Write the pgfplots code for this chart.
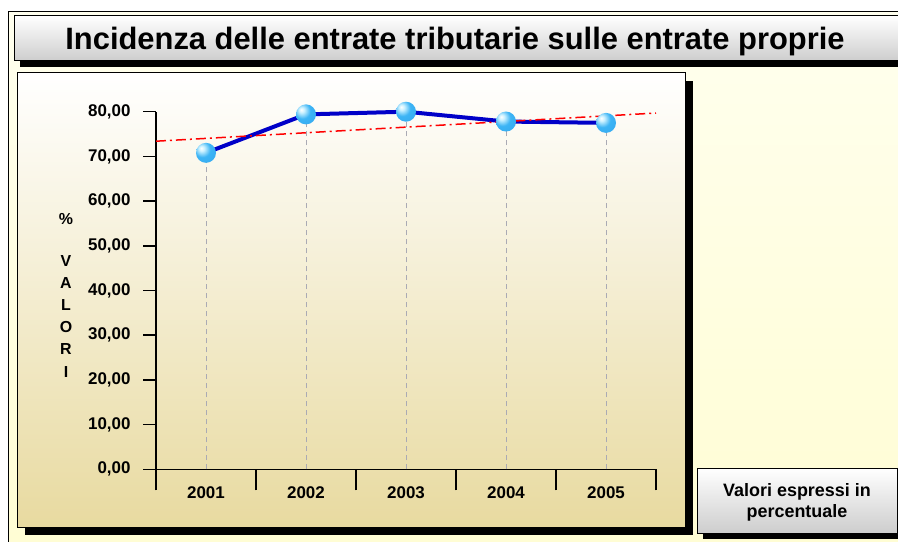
\documentclass[border=0pt]{standalone}
\usepackage{fontspec}
\setmainfont{Liberation Sans}
\usepackage{pgfplots}
\pgfplotsset{compat=1.18}
\usetikzlibrary{plotmarks}
\definecolor{bgtop}{RGB}{255,255,238}
\definecolor{bgbot}{RGB}{255,253,212}
\definecolor{panelbot}{RGB}{232,218,160}
\definecolor{boxbot}{RGB}{205,205,205}
\definecolor{lineblue}{RGB}{0,0,200}
\definecolor{ballhi}{RGB}{200,240,255}
\definecolor{ballmid}{RGB}{60,180,245}
\definecolor{balledge}{RGB}{15,110,205}
\definecolor{dropgray}{RGB}{170,170,180}
\pgfdeclareradialshading{myballshade}{\pgfpoint{-12bp}{12bp}}{%
  color(0bp)=(white); color(7bp)=(ballhi); color(20bp)=(ballmid);
  color(42bp)=(ballmid!85!balledge); color(60bp)=(balledge); color(80bp)=(balledge)}
\pgfdeclareplotmark{myball}{%
  \pgfpathcircle{\pgfpointorigin}{\pgfplotmarksize}%
  \pgfshadepath{myballshade}{0}%
  \pgfusepath{discard}}
\begin{document}
\begin{tikzpicture}
\begin{scope}[x=1bp,y=-1bp]
\path[use as bounding box] (0,0) rectangle (898,542);
\fill[white] (0,0) rectangle (898,542);
\shade[top color=bgtop,bottom color=bgbot] (8,12) rectangle (898,542);
\draw[black,line width=1bp] (8,542) -- (8,12) -- (898,12);
% title box
\fill[black] (20,22) rectangle (906,67);
\shadedraw[top color=white,bottom color=boxbot,draw=black,line width=1bp] (14,16) rectangle (900,61);
\node[anchor=base,inner sep=0pt,font=\fontsize{31}{31}\selectfont\bfseries] at (455,50) {Incidenza delle entrate tributarie sulle entrate proprie};
% plot panel
\fill[black] (25,81) rectangle (693,535);
\shadedraw[top color=white,bottom color=panelbot,draw=black,line width=1bp] (17,73) rectangle (685,527);
% note box
\fill[black] (703,474) rectangle (903,539);
\shadedraw[top color=white,bottom color=boxbot,draw=black,line width=1bp] (697,468) rectangle (897,533);
\node[anchor=base,inner sep=0pt,font=\fontsize{18}{18}\selectfont\bfseries] at (797,496) {Valori espressi in};
\node[anchor=base,inner sep=0pt,font=\fontsize{18}{18}\selectfont\bfseries] at (797,517) {percentuale};
% vertical y label
\foreach \t/\yy in {\%/225,V/267,A/289,L/311,O/333,R/355,I/377}
  \node[anchor=base,inner sep=0pt,font=\fontsize{16}{16}\selectfont\bfseries] at (66,\yy) {\t};
\end{scope}
\begin{axis}[
  at={(156bp,-469.3bp)}, anchor=south west,
  scale only axis, width=500bp, height=357.6bp,
  xmin=-0.5, xmax=4.5, ymin=0, ymax=80,
  axis lines*=left,
  axis line style={black,line width=1.5bp},
  clip=false,
  tick align=outside,
  major tick length=13bp,
  minor tick length=21bp,
  ytick={0,10,20,30,40,50,60,70,80},
  yticklabels={{0,00},{10,00},{20,00},{30,00},{40,00},{50,00},{60,00},{70,00},{80,00}},
  xtick={0,1,2,3,4},
  xticklabels={2001,2002,2003,2004,2005},
  minor xtick={-0.5,0.5,1.5,2.5,3.5,4.5},
  major x tick style={draw=none},
  minor x tick style={black,line width=1.5bp},
  ytick style={black,line width=1.5bp},
  ticklabel style={font=\fontsize{17}{17}\selectfont\bfseries},
  yticklabel style={xshift=-9bp},
  xticklabel style={yshift=-1bp},
]
\addplot[ycomb, dropgray, line width=1bp, dash pattern=on 5bp off 4bp, forget plot]
  coordinates {(0,70.8) (1,79.4) (2,80.0) (3,77.8) (4,77.5)};
\addplot[lineblue, line width=4bp, no marks]
  coordinates {(0,70.8) (1,79.4) (2,80.0) (3,77.8) (4,77.5)};
\addplot[red, line width=1.5bp, dash pattern=on 10bp off 4bp on 2bp off 4bp, no marks]
  coordinates {(-0.5,73.4) (4.5,79.7)};
\addplot[only marks, mark=myball, mark size=10bp]
  coordinates {(0,70.8) (1,79.4) (2,80.0) (3,77.8) (4,77.5)};
\end{axis}
\end{tikzpicture}
\end{document}
